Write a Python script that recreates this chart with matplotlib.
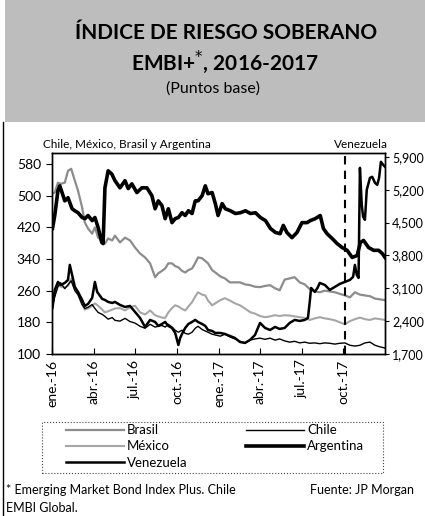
import pandas as pd
import matplotlib.pyplot as plt
from matplotlib.patches import Rectangle
from matplotlib.lines import Line2D

plt.rcParams['font.family'] = ['Lato', 'DejaVu Sans']

# fechas comunes para Brasil, México y Chile
fechas = ['2016-01-01', '2016-01-07', '2016-01-14', '2016-01-20', '2016-01-29',
          '2016-02-05', '2016-02-12', '2016-02-20', '2016-02-27', '2016-03-07',
          '2016-03-13', '2016-03-20', '2016-03-29', '2016-04-04', '2016-04-11',
          '2016-04-20', '2016-04-26', '2016-05-03', '2016-05-12', '2016-05-18',
          '2016-05-29', '2016-06-09', '2016-06-20', '2016-07-01', '2016-07-12',
          '2016-07-23', '2016-08-03', '2016-08-14', '2016-08-21', '2016-08-29',
          '2016-09-05', '2016-09-12', '2016-09-20', '2016-09-27', '2016-10-04',
          '2016-10-12', '2016-10-19', '2016-10-26', '2016-11-03', '2016-11-10',
          '2016-11-16', '2016-11-25', '2016-12-02', '2016-12-08', '2016-12-17',
          '2016-12-24', '2017-01-04', '2017-01-14', '2017-01-25', '2017-02-05',
          '2017-02-16', '2017-02-27', '2017-03-10', '2017-03-21', '2017-04-01',
          '2017-04-12', '2017-04-23', '2017-05-04', '2017-05-14', '2017-05-25',
          '2017-06-05', '2017-06-16', '2017-06-27', '2017-07-08', '2017-07-19',
          '2017-07-30', '2017-08-10', '2017-08-21', '2017-09-01', '2017-09-12',
          '2017-09-23', '2017-10-04', '2017-10-15', '2017-10-26', '2017-11-06',
          '2017-11-17', '2017-11-28', '2017-12-09', '2017-12-20', '2017-12-31']

brasil = [505, 508, 533, 530, 533, 563, 568, 538, 513, 470, 432, 417, 404, 420, 394,
          387, 379, 392, 387, 399, 382, 394, 387, 369, 354, 344, 329, 294, 304, 310,
          316, 329, 329, 322, 319, 310, 306, 312, 316, 330, 344, 342, 335, 329, 312,
          306, 296, 291, 281, 281, 281, 276, 274, 270, 269, 272, 274, 266, 261, 288,
          291, 294, 281, 276, 264, 258, 256, 260, 258, 256, 252, 248, 243, 256, 250,
          248, 246, 240, 238, 236]

mexico = [218, 250, 275, 270, 268, 272, 290, 265, 250, 225, 212, 215, 222, 228, 222,
          212, 205, 208, 212, 215, 216, 210, 218, 222, 205, 200, 210, 198, 195, 192,
          191, 205, 216, 223, 220, 214, 210, 220, 231, 245, 256, 250, 248, 235, 223,
          228, 236, 241, 235, 228, 223, 215, 206, 202, 196, 193, 195, 198, 196, 198,
          197, 195, 193, 191, 186, 190, 193, 190, 188, 185, 180, 175, 183, 188, 192,
          188, 186, 190, 188, 186]

chile = [216, 245, 270, 280, 265, 275, 285, 260, 250, 225, 215, 218, 225, 215, 205,
         200, 195, 188, 192, 185, 183, 190, 182, 178, 170, 165, 175, 168, 170, 172,
         168, 175, 168, 160, 155, 160, 152, 150, 155, 165, 170, 162, 158, 155, 150,
         148, 145, 150, 143, 138, 132, 128, 135, 138, 140, 137, 140, 135, 138, 133,
         130, 132, 128, 130, 127, 128, 126, 128, 127, 125, 127, 128, 122, 120, 122,
         128, 130, 122, 118, 115]

fechas_arg = ['2016-01-02', '2016-01-07', '2016-01-14', '2016-01-18', '2016-01-23',
              '2016-01-29', '2016-02-05', '2016-02-14', '2016-02-20', '2016-02-27',
              '2016-03-07', '2016-03-13', '2016-03-20', '2016-03-29', '2016-04-04',
              '2016-04-11', '2016-04-19', '2016-04-22', '2016-04-26', '2016-05-03',
              '2016-05-11', '2016-05-18', '2016-05-29', '2016-06-09', '2016-06-16',
              '2016-06-24', '2016-07-05', '2016-07-16', '2016-07-27', '2016-08-07',
              '2016-08-14', '2016-08-21', '2016-08-29', '2016-09-05', '2016-09-12',
              '2016-09-20', '2016-09-27', '2016-10-04', '2016-10-12', '2016-10-19',
              '2016-10-26', '2016-11-03', '2016-11-10', '2016-11-16', '2016-11-25',
              '2016-12-02', '2016-12-08', '2016-12-17', '2016-12-24', '2016-12-30',
              '2017-01-08', '2017-01-15', '2017-01-26', '2017-02-06', '2017-02-17',
              '2017-02-28', '2017-03-11', '2017-03-22', '2017-04-02', '2017-04-13',
              '2017-04-24', '2017-05-05', '2017-05-15', '2017-05-22', '2017-05-30',
              '2017-06-10', '2017-06-21', '2017-07-02', '2017-07-13', '2017-07-20',
              '2017-07-31', '2017-08-11', '2017-08-18', '2017-08-26', '2017-09-06',
              '2017-09-17', '2017-09-28', '2017-10-09', '2017-10-20', '2017-10-31',
              '2017-11-07', '2017-11-14', '2017-11-25', '2017-12-06', '2017-12-17',
              '2017-12-25', '2017-12-31']

argentina = [417, 450, 513, 525, 508, 487, 495, 467, 462, 457, 445, 442, 450, 437, 445,
             420, 382, 379, 520, 563, 555, 538, 520, 538, 518, 530, 508, 520, 520, 500,
             467, 487, 475, 442, 467, 432, 442, 445, 457, 450, 462, 455, 487, 487, 500,
             525, 505, 508, 480, 450, 480, 467, 462, 455, 457, 462, 455, 457, 445, 437,
             417, 407, 404, 425, 407, 394, 407, 432, 432, 437, 442, 450, 417, 404, 392,
             379, 369, 362, 344, 349, 382, 387, 369, 362, 362, 354, 344]

fechas_ven = ['2016-01-02', '2016-01-07', '2016-01-14', '2016-01-20', '2016-01-29',
              '2016-02-05', '2016-02-09', '2016-02-14', '2016-02-20', '2016-02-27',
              '2016-03-07', '2016-03-13', '2016-03-20', '2016-03-29', '2016-04-04',
              '2016-04-09', '2016-04-20', '2016-04-26', '2016-05-03', '2016-05-12',
              '2016-05-18', '2016-05-29', '2016-06-09', '2016-06-20', '2016-07-01',
              '2016-07-12', '2016-07-23', '2016-08-03', '2016-08-14', '2016-08-21',
              '2016-08-29', '2016-09-05', '2016-09-12', '2016-09-20', '2016-09-27',
              '2016-10-04', '2016-10-08', '2016-10-12', '2016-10-19', '2016-10-26',
              '2016-11-03', '2016-11-10', '2016-11-16', '2016-11-25', '2016-12-02',
              '2016-12-08', '2016-12-17', '2016-12-24', '2017-01-04', '2017-01-14',
              '2017-01-25', '2017-02-05', '2017-02-16', '2017-02-27', '2017-03-10',
              '2017-03-21', '2017-04-01', '2017-04-12', '2017-04-23', '2017-05-04',
              '2017-05-14', '2017-05-25', '2017-06-05', '2017-06-16', '2017-06-27',
              '2017-07-08', '2017-07-15', '2017-07-19', '2017-07-22', '2017-07-30',
              '2017-08-05', '2017-08-10', '2017-08-21', '2017-09-01', '2017-09-12',
              '2017-09-23', '2017-10-04', '2017-10-15', '2017-10-22', '2017-10-26',
              '2017-10-30', '2017-11-03', '2017-11-06', '2017-11-10', '2017-11-13',
              '2017-11-17', '2017-11-21', '2017-11-28', '2017-12-03', '2017-12-09',
              '2017-12-14', '2017-12-18', '2017-12-22', '2017-12-27', '2017-12-31']

venezuela = [2680, 3066, 3236, 3172, 3215, 3279, 3600, 3386, 3130, 3023, 2852, 2724,
             2767, 2895, 3236, 3023, 2874, 2852, 2810, 2788, 2810, 2746, 2703, 2724,
             2596, 2468, 2276, 2426, 2383, 2298, 2340, 2383, 2298, 2255, 2148, 1892,
             2041, 2127, 2255, 2340, 2383, 2426, 2383, 2340, 2298, 2212, 2191, 2148,
             2148, 2127, 2084, 2041, 1956, 1935, 1999, 2105, 2362, 2255, 2212, 2276,
             2234, 2255, 2362, 2426, 2404, 2426, 2468, 2810, 3108, 3023, 3108, 3215,
             3172, 3066, 3130, 3194, 3236, 3279, 3343, 3599, 3386, 3322, 5669, 4880,
             4624, 4560, 5200, 5456, 5477, 5349, 5306, 5456, 5797, 5733, 5690]

ticks_x = ['2016-01-01', '2016-04-01', '2016-07-01', '2016-10-01',
           '2017-01-01', '2017-04-01', '2017-07-01', '2017-10-01']
etiquetas_x = ['ene.-16', 'abr.-16', 'jul.-16', 'oct.-16',
               'ene.-17', 'abr.-17', 'jul.-17', 'oct.-17']
ticks_izq = [100, 180, 260, 340, 420, 500, 580]
ticks_der = [1700, 2400, 3100, 3800, 4500, 5200, 5900]
etiquetas_der = ['1,700', '2,400', '3,100', '3,800', '4,500', '5,200', '5,900']

fig = plt.figure(figsize=(4.25, 5.16), dpi=100)

# franja gris del encabezado y borde izquierdo
fig.patches.append(Rectangle((0.012, 0.7636), 0.988, 0.2364, transform=fig.transFigure,
                             facecolor='#bdbdbd', edgecolor='none', zorder=0))
fig.add_artist(Line2D([0.006, 0.006], [0, 0.7636], transform=fig.transFigure,
                      color='black', lw=1))

fig.text(0.533, 0.936, 'ÍNDICE DE RIESGO SOBERANO', ha='center', va='center',
         fontsize=15, fontweight='bold')
fig.text(0.53, 0.880, r'EMBI+$^{*}$, 2016-2017', ha='center', va='center',
         fontsize=15, fontweight='bold')
fig.text(0.50, 0.829, '(Puntos base)', ha='center', va='center', fontsize=11.5)

fig.text(0.101, 0.719, 'Chile, México, Brasil y Argentina', ha='left', va='center', fontsize=8.5)
fig.text(0.913, 0.719, 'Venezuela', ha='right', va='center', fontsize=8.5)

ax = fig.add_axes([0.1224, 0.314, 0.7835, 0.3895])
ax2 = ax.twinx()

f = pd.to_datetime(fechas)
l_br, = ax.plot(f, brasil, color='#8c8c8c', lw=1.6)
l_mx, = ax.plot(f, mexico, color='#a6a6a6', lw=1.5)
l_cl, = ax.plot(f, chile, color='black', lw=1.0)
l_ar, = ax.plot(pd.to_datetime(fechas_arg), argentina, color='black', lw=2.6)
l_ve, = ax2.plot(pd.to_datetime(fechas_ven), venezuela, color='black', lw=1.8)

ax.axvline(pd.Timestamp('2017-10-04'), color='black', lw=1.5, ls=(0, (4, 3)))

ax.set_xlim(pd.Timestamp('2016-01-01'), pd.Timestamp('2017-12-31'))
ax.set_ylim(100, 608)
ax2.set_ylim(1700, 5985)
ax.set_xticks(pd.to_datetime(ticks_x))
ax.set_xticklabels(etiquetas_x, rotation=90)
ax.set_yticks(ticks_izq)
ax2.set_yticks(ticks_der)
ax2.set_yticklabels(etiquetas_der)

ax.tick_params(axis='x', direction='in', length=4, labelsize=10, pad=4)
ax.tick_params(axis='y', direction='out', length=4, labelsize=10, pad=4)
ax2.tick_params(axis='y', direction='out', length=3, labelsize=9, pad=2)
for a in (ax, ax2):
    for s in a.spines.values():
        s.set_linewidth(1.0)

# recuadro punteado de la leyenda
fig.patches.append(Rectangle((0.099, 0.0833), 0.802, 0.0994, transform=fig.transFigure,
                             facecolor='none', edgecolor='#444444', lw=0.8, ls=':'))
fig.legend([l_br, l_mx, l_ve, l_cl, l_ar], ['Brasil', 'México', 'Venezuela', 'Chile', 'Argentina'],
           ncol=2, loc='upper left', bbox_to_anchor=(0.155, 0.178), frameon=False,
           fontsize=9.5, handlelength=4.4, handletextpad=0.25, labelspacing=0.32,
           columnspacing=4.4, borderpad=0, borderaxespad=0)

fig.text(0.015, 0.050, '* Emerging Market Bond Index Plus. Chile', ha='left', va='center', fontsize=9)
fig.text(0.015, 0.016, 'EMBI Global.', ha='left', va='center', fontsize=9)
fig.text(0.73, 0.050, 'Fuente: JP Morgan', ha='left', va='center', fontsize=9)

fig.savefig('out.png', dpi=100)
